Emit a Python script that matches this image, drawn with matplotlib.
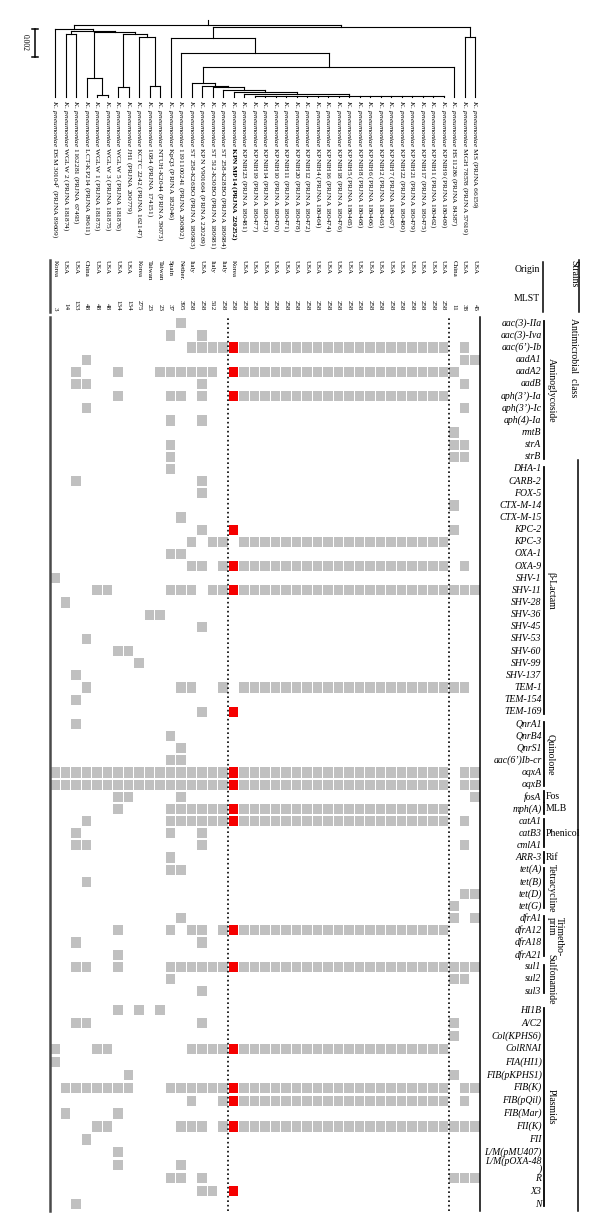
"""
gene content of K. pneumoniae genomes: dendrogram, strain info and
presence / absence matrix of resistance genes and plasmid replicons
"""
import matplotlib
matplotlib.use("Agg")
import matplotlib.pyplot as plt
from matplotlib.lines import Line2D
from matplotlib.transforms import blended_transform_factory

plt.rcParams["font.family"] = ["Liberation Serif", "DejaVu Serif"]
plt.rcParams["mathtext.fontset"] = "custom"
plt.rcParams["mathtext.rm"] = "Liberation Serif"
plt.rcParams["mathtext.it"] = "Liberation Serif:italic"
plt.rcParams["mathtext.bf"] = "Liberation Serif:bold"

# strains, left to right
strains = ["DSM $30104^{\\mathrm{T}}$ (PRJNA 89609)", "WGLW 2 (PRJNA 181874)",
           "1162281 (PRJNA 67493)", "LCT-KP214 (PRJNA 89611)",
           "WGLW 1 (PRJNA 181873)", "WGLW 3 (PRJNA 181875)",
           "WGLW 5 (PRJNA 181876)", "JH1 (PRJNA 200779)",
           "KCTC 2242 (PRJNA 162147)", "1084 (PRJNA 174151)",
           "NTUH-K2044 (PRJNA 59073)", "KpQ3 (PRJNA 182046)",
           "1191100241 (PRJNA 200802)", "ST 258-K26BO (PRJNA 180983)",
           "KPN V901664 (PRJNA 220269)", "ST 512-K30BO (PRJNA 180981)",
           "ST 258-K28BO (PRJNA 180984)", "KPN MP14 (PRJNA 220252)",
           "KPNIH23 (PRJNA 180481)", "KPNIH19 (PRJNA 180477)",
           "KPNIH14 (PRJNA 180473)", "KPNIH10 (PRJNA 180470)",
           "KPNIH11 (PRJNA 180471)", "KPNIH20 (PRJNA 180478)",
           "KPNIH12 (PRJNA 180472)", "KPNIH4 (PRJNA 180464)",
           "KPNIH16 (PRJNA 180474)", "KPNIH18 (PRJNA 180476)",
           "KPNIH5 (PRJNA 180465)", "KPNIH8 (PRJNA 180468)",
           "KPNIH6 (PRJNA 180466)", "KPNIH2 (PRJNA 180463)",
           "KPNIH7 (PRJNA 180467)", "KPNIH22 (PRJNA 180480)",
           "KPNIH21 (PRJNA 180479)", "KPNIH17 (PRJNA 180475)",
           "KPNIH1 (PRJNA 180462)", "KPNIH9 (PRJNA 180469)",
           "HS11286 (PRJNA 84387)", "MGH 78578 (PRJNA 57619)",
           "MS (PRJNA 66159)"]
origins = ["Korea", "USA", "USA", "China", "USA", "USA", "USA", "USA",
           "Korea", "Taiwan", "Taiwan", "Spain", "Nether.", "Italy", "USA",
           "Italy", "Italy", "Korea", "USA", "USA", "USA", "USA", "USA",
           "USA", "USA", "USA", "USA", "USA", "USA", "USA", "USA", "USA",
           "USA", "USA", "USA", "USA", "USA", "USA", "China", "USA", "USA"]
mlst = [3, 14, 133, 48, 48, 48, 134, 134, 275, 23, 23, 37, 395, 258, 258,
        512, 258, 258, 258, 258, 258, 258, 258, 258, 258, 258, 258, 258,
        258, 258, 258, 258, 258, 258, 258, 258, 258, 258, 11, 38, 45]
highlight = 18          # KPN MP14, drawn in bold / red
dotted_after = [17, 38]  # separators drawn after these strains

# tree: (height, child, child, ...), leaves are strain numbers
tree = (0.00514,
        (0.00484, 1,
         (0.00474,
          (0.00448, 2, 3),
          (0.00464,
           (0.00134, 4, (0.00012, 5, 6)),
           (0.00452,
            (0.00069, 7, 8),
            (0.00426, 9, (0.00079, 10, 11)))))),
        (0.00502,
         (0.00419, 12,
          (0.00316, 13,
           (0.00212,
            (0.00102, 14,
             (0.00081, 15,
              (0.00069, 16,
               (0.00050, 17,
                (0.00034, 18,
                 (0.00018, 19,
                  (0.00010, 20, 21, 22, 23, 24, 25, 26, 27, 28, 29, 30,
                   31, 32, 33, 34, 35, 36, 37, 38))))))),
            39))),
         (0.00426, 40, 41)))

genes = ["aac(3)-IIa", "aac(3)-Iva", "aac(6’)-Ib", "aadA1", "aadA2", "aadB",
         "aph(3’)-Ia", "aph(3’)-Ic", "aph(4)-Ia", "rmtB", "strA", "strB",
         "DHA-1", "CARB-2", "FOX-5", "CTX-M-14", "CTX-M-15", "KPC-2",
         "KPC-3", "OXA-1", "OXA-9", "SHV-1", "SHV-11", "SHV-28", "SHV-36",
         "SHV-45", "SHV-53", "SHV-60", "SHV-99", "SHV-137", "TEM-1",
         "TEM-154", "TEM-169",
         "QnrA1", "QnrB4", "QnrS1", "aac(6’)Ib-cr", "oqxA", "oqxB",
         "fosA", "mph(A)", "catA1", "catB3", "cmlA1", "ARR-3",
         "tet(A)", "tet(B)", "tet(D)", "tet(G)",
         "dfrA1", "dfrA12", "dfrA18", "dfrA21", "sul1", "sul2", "sul3",
         "HI1B", "A/C2", "Col(KPHS6)", "ColRNAI", "FIA(HI1)", "FIB(pKPHS1)",
         "FIB(K)", "FIB(pQil)", "FIB(Mar)", "FII(K)", "FII", "L/M(pMU407)",
         "L/M(pOXA-48\n)", "R", "X3", "N"]
class_names = ["Aminoglycoside", "β-Lactam", "Quinolone", "Fos", "MLB",
               "Phenicol", "Rif", "Tetracycline", "Trimetho-\nprim",
               "Sulfonamide", "Plasmids"]
class_sizes = [12, 21, 6, 1, 1, 3, 1, 4, 4, 3, 16]

# one string per gene: strains 1-11 | 12-17 | 18 | 19-38 | 39-41
presence = [
    "........... .#.... . .................... ...",
    "........... #..#.. . .................... ...",
    "........... ..#### # #################### .#.",
    "...#....... ...... . .................... .##",
    "..#...#...# #####. # #################### #..",
    "..##....... ...#.. . .................... .#.",
    "......#.... ##.#.. # #################### ...",
    "...#....... ...... . .................... .#.",
    "........... #..#.. . .................... ...",
    "........... ...... . .................... #..",
    "........... #..... . .................... ##.",
    "........... #..... . .................... ##.",
    "........... #..... . .................... ...",
    "..#........ ...#.. . .................... ...",
    "........... ...#.. . .................... ...",
    "........... ...... . .................... #..",
    "........... .#.... . .................... ...",
    "........... ...#.. # .................... #..",
    "........... ..#.## . #################### ...",
    "........... ##.... . .................... ...",
    "........... ..##.# # #################### .#.",
    "#.......... ...... . .................... ...",
    "....##..... ###.## # #################### ###",
    ".#......... ...... . .................... ...",
    ".........## ...... . .................... ...",
    "........... ...#.. . .................... ...",
    "...#....... ...... . .................... ...",
    "......##... ...... . .................... ...",
    "........#.. ...... . .................... ...",
    "..#........ ...... . .................... ...",
    "...#....... .##..# . #################### ##.",
    "..#........ ...... . .................... ...",
    "........... ...#.. # .................... ...",
    "..#........ ...... . .................... ...",
    "........... #..... . .................... ...",
    "........... .#.... . .................... ...",
    "........... ##.... . .................... ...",
    "########### ###### # #################### .##",
    "########### ###### # #################### .##",
    "......##... .#.... . .................... ..#",
    "......#.... ###### # #################### ...",
    "...#....... ###### # #################### .#.",
    "..#........ #..#.. . .................... ...",
    "..##....... ...#.. . .................... .#.",
    "........... #..... . .................... ...",
    "........... ##.... . .................... ...",
    "...#....... ...... . .................... ...",
    "........... ...... . .................... .##",
    "........... ...... . .................... #..",
    "........... .#.... . .................... #.#",
    "......#.... #.##.# # #################### ...",
    "..#........ ...#.. . .................... ...",
    "......#.... ...... . .................... ...",
    "..##..#.... ###### # #################### ###",
    "........... #..... . .................... ##.",
    "........... ...#.. . .................... ...",
    "......#.#.# ...... . .................... ...",
    "..##....... ...#.. . .................... #..",
    "........... ...... . .................... #..",
    "#...##..... ..#### # #################### ...",
    "#.......... ...... . .................... ...",
    ".......#... ...... . .................... #..",
    ".#######... ###### # #################### .##",
    "........... ..#..# # #################### .#.",
    ".#....#.... ...... . .................... ...",
    "....##..... .###.# # #################### ###",
    "...#....... ...... . .................... ...",
    "......#.... ...... . .................... ...",
    "......#.... .#.... . .................... ...",
    "........... ##.#.. . .................... ###",
    "........... ...##. # .................... ...",
    "..#........ ...... . .................... ...",
]

GRAY = "#c0c0c0"
RED = "#f50000"
W, H = 600, 1232


def fx(px):
    """figure fraction of a pixel column"""
    return px / W


def fy(py):
    """figure fraction of a pixel row (counted from the top)"""
    return 1 - py / H


n_col = len(strains)
col_left, col_right = 49.75, 480.25
col_w = (col_right - col_left) / n_col
heat_top, heat_bot = 317.2, 1210.5
tree_top, tree_bot = 15, 97
tree_px = 14000  # pixels per unit of distance (0.002 -> 28 px)

fig = plt.figure(figsize=(W / 100, H / 100), dpi=100)

# row positions: plasmid block is slightly looser and set apart
group_of_row = []
for g, size in enumerate(class_sizes):
    group_of_row += [g] * size
plasmid = class_names.index("Plasmids")
ypos = [0.0]
for i in range(1, len(genes)):
    if group_of_row[i] == plasmid:
        step = 1.565 if group_of_row[i - 1] != plasmid else 1.065
    else:
        step = 1.0
    ypos.append(ypos[-1] + step)

# heat map
ax = fig.add_axes([fx(col_left), fy(heat_bot), fx(col_right - col_left),
                   (heat_bot - heat_top) / H])
ax.set_xlim(-0.5, n_col - 0.5)
ax.set_ylim(ypos[-1] + 0.53, -0.5)
ax.set_xticks([])
ax.set_yticks([])
for side in ("top", "bottom"):
    ax.spines[side].set_visible(False)
ax.spines["left"].set_color("#4a4a4a")
ax.spines["left"].set_linewidth(1.8)
ax.spines["right"].set_linewidth(1.1)

for i, row in enumerate(presence):
    flags = row.replace(" ", "")
    assert len(flags) == n_col, genes[i]
    cols = [k for k, c in enumerate(flags) if c == "#"]
    colors = [RED if k == highlight - 1 else GRAY for k in cols]
    ax.bar(cols, 0.84, bottom=ypos[i] - 0.42, width=0.86, color=colors,
           linewidth=0)

for k in dotted_after:
    ax.axvline(k - 0.5, color="k", lw=1.2, ls=(0, (1, 1.7)))

# dendrogram
tax = fig.add_axes([fx(col_left), fy(tree_bot), fx(col_right - col_left),
                    (tree_bot - tree_top) / H])
tax.set_xlim(-0.5, n_col - 0.5)
tax.set_ylim(0, (tree_bot - tree_top) / tree_px)
tax.axis("off")


def draw(node):
    """
    draw a node of the tree as an elbow
    :param node: strain number or (height, child, child, ...)
    :return: x and height of the node
    """
    if isinstance(node, int):
        return node - 1, 0.0
    height, *kids = node
    points = [draw(kid) for kid in kids]
    for x, y in points:
        tax.plot([x, x], [y, height], color="k", lw=0.8, clip_on=False)
    xs = [p[0] for p in points]
    tax.plot([min(xs), max(xs)], [height, height], color="k", lw=0.8,
             clip_on=False)
    return (min(xs) + max(xs)) / 2, height


root_x, root_h = draw(tree)
tax.plot([root_x, root_x], [root_h, root_h + 5 / tree_px], color="k",
         lw=0.8, clip_on=False)

# scale bar
sx = (35 - col_left) / col_w - 0.5
s0 = (tree_bot - 57) / tree_px
tax.plot([sx, sx], [s0, s0 + 0.002], color="k", lw=1.1, clip_on=False)
for yy in (s0, s0 + 0.002):
    tax.plot([sx - 0.25, sx + 0.25], [yy, yy], color="k", lw=1.1,
             clip_on=False)
tax.text(sx - 0.95, s0 + 0.001, "0.002", rotation=-90, ha="center",
         va="center", fontsize=5.5)

# strain information
tx = blended_transform_factory(ax.transData, fig.transFigure)
for k, name in enumerate(strains):
    weight = "bold" if k == highlight - 1 else "normal"
    ax.text(k, fy(100), r"$\mathit{K.\ pneumoniae}$ " + name,
            transform=tx, rotation=-90, ha="center", va="top",
            fontsize=5.3, fontweight=weight)
    ax.text(k, fy(260), origins[k], transform=tx, rotation=-90,
            ha="center", va="top", fontsize=5)
    ax.text(k, fy(310.5), str(mlst[k]), transform=tx, rotation=-90,
            ha="center", va="bottom", fontsize=5)

fig.text(fx(540), fy(270), "Origin", ha="right", va="center", fontsize=7)
fig.text(fx(540), fy(298.5), "MLST", ha="right", va="center", fontsize=7)
fig.text(fx(569), fy(260), "Strains", rotation=-90, ha="left", va="top",
         fontsize=7)
fig.text(fx(569), fy(318), "Antimicrobial  class", rotation=-90, ha="left",
         va="top", fontsize=7)
fig.add_artist(Line2D([fx(543)] * 2, [fy(262), fy(312)], color="k", lw=1.1))
fig.add_artist(Line2D([fx(579)] * 2, [fy(260), fy(312)], color="k", lw=1.1))
fig.add_artist(Line2D([fx(578)] * 2, [fy(460), fy(heat_bot)], color="k",
                      lw=1.1))
fig.add_artist(Line2D([fx(50)] * 2, [fy(260), fy(312)], color="#4a4a4a",
                      lw=1.8))

# gene names and classes
ty = blended_transform_factory(fig.transFigure, ax.transData)
for i, gene in enumerate(genes):
    ax.text(fx(541.5), ypos[i], gene, transform=ty, ha="right",
            va="center", fontsize=7, fontstyle="italic", linespacing=0.85)

horizontal = {"Fos", "MLB", "Phenicol", "Rif"}
start = 0
for name, size in zip(class_names, class_sizes):
    end = start + size - 1
    pad = 0.45 if size == 1 else 0.15
    ax.plot([fx(543.5)] * 2, [ypos[start] - pad, ypos[end] + pad],
            transform=ty, color="k", lw=1.3, clip_on=False)
    mid = (ypos[start] + ypos[end]) / 2
    if name in horizontal:
        ax.text(fx(545.5), mid, name, transform=ty, ha="left", va="center",
                fontsize=7)
    else:
        ax.text(fx(546.5), mid, name, transform=ty, rotation=-90, ha="left",
                va="center", fontsize=7, linespacing=0.9)
    start = end + 1

fig.savefig("out.png", dpi=100)
